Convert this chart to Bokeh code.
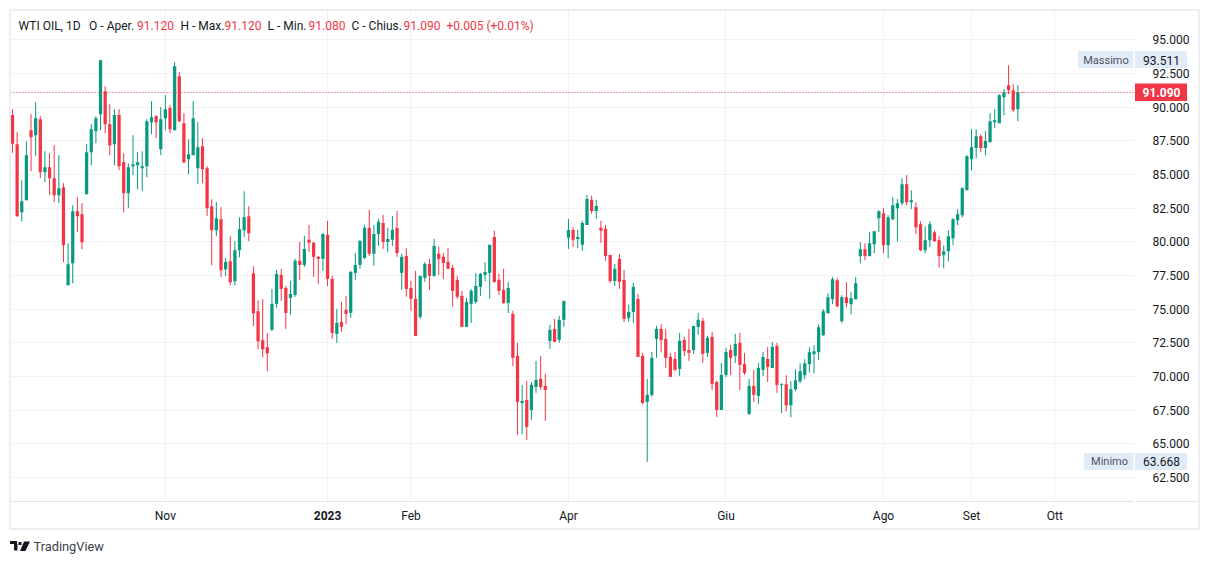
from bokeh.embed import file_html
from bokeh.resources import INLINE
from bokeh.plotting import figure
from bokeh.models import (ColumnDataSource, FixedTicker, Label, BoxAnnotation, PolyAnnotation,
                          Range1d, NumeralTickFormatter)

opens = [89.41,87.25,82.2,83.09,88.29,87.92,89.11,85.17,85.54,84.73,83.47,84.06,76.78,78.42,82.28,82.05,83.54,86.66,88.22,89.48,91.19,88.74,87.25,89.41,85.92,83.61,85.62,85.69,85.47,85.62,88.89,89.33,86.88,89.18,89.93,88.29,92.3,88.81,86.14,86.44,85.47,87.1,85.47,82.65,80.87,81.68,77.97,78.56,77.08,79.38,80.87,81.91,77.67,74.85,72.7,72.18,
 73.47,75.4,77.55,76.58,75.84,76.06,78.59,78.29,80.15,79.93,78.89,78.74,80.52,77.25,73.17,74.06,74.95,74.73,77.7,78.29,78.81,81.04,79.11,80.59,81.41,80.0,80.15,81.04,77.7,78.96,76.58,75.77,74.43,77.33,78.37,77.48,79.11,78.89,78.51,78.07,77.18,75.99,73.69,75.4,75.54,76.66,77.55,77.7,80.37,77.18,76.44,75.47,74.65,71.53,68.04,68.27,
 67.52,69.23,69.83,69.31,72.65,73.54,72.72,74.21,80.3,80.89,80.22,79.78,81.26,83.12,82.3,81.04,80.97,79.03,77.1,78.74,77.18,74.36,74.8,75.77,71.53,68.12,68.64,72.8,73.54,72.8,71.46,71.31,70.57,72.72,71.98,71.98,73.69,74.13,71.76,72.95,69.6,67.52,70.12,71.98,71.53,72.5,70.94,67.23,69.31,68.56,70.5,71.31,70.64,72.28,
 69.36,69.43,67.87,69.06,69.65,70.1,70.92,71.66,71.81,73.07,74.7,75.74,77.15,74.11,75.89,75.37,75.74,78.94,79.46,78.94,79.83,81.76,82.13,79.75,81.68,82.5,82.87,84.28,82.95,82.57,81.31,79.38,80.12,80.72,80.12,79.01,79.31,80.27,81.61,81.98,83.84,86.14,86.96,87.85,86.96,87.4,88.89,88.81,90.74,91.63,91.26,89.85,91.12]
highs = [89.85,88.14,84.58,87.48,89.48,90.37,89.33,86.73,86.58,87.18,86.44,84.36,79.9,82.72,83.32,82.87,87.25,88.74,89.33,93.511,91.56,90.22,89.85,89.85,86.58,85.84,87.92,86.66,86.73,89.11,90.45,89.41,90.0,90.89,90.15,93.34,92.6,89.55,87.62,90.45,88.89,87.7,85.62,83.17,82.95,82.57,78.79,80.42,80.05,81.83,83.76,82.65,78.19,75.67,75.74,73.22,
 76.51,77.92,78.0,76.73,77.1,78.74,80.0,80.45,81.26,80.0,78.96,80.67,81.56,77.48,75.02,75.54,75.99,77.85,79.18,80.15,81.26,82.38,81.26,81.71,82.0,81.04,81.93,82.3,79.11,79.55,77.1,77.85,77.48,78.51,78.74,80.22,79.63,79.18,79.55,78.29,77.48,76.36,75.84,76.51,77.7,77.7,78.51,79.78,80.82,77.62,78.0,77.03,74.88,72.5,69.38,69.68,
 69.6,71.16,71.53,70.2,73.84,74.28,74.5,75.62,81.71,81.11,80.89,81.56,83.49,83.42,83.12,81.56,81.26,79.03,78.37,79.11,77.92,75.32,76.96,76.14,71.76,69.83,71.83,73.76,73.91,73.54,71.76,71.83,73.24,72.95,73.54,73.76,74.73,74.36,73.02,73.32,69.68,71.01,72.13,72.35,73.17,73.24,71.76,69.83,70.5,71.01,71.83,72.2,72.57,72.5,
 69.51,70.1,69.65,70.54,70.99,71.29,72.18,72.33,73.89,75.0,76.19,77.38,77.3,76.04,77.0,76.26,77.38,79.98,79.9,80.72,80.79,82.35,82.5,81.98,83.32,83.17,84.73,84.95,83.84,82.95,81.53,81.16,81.53,80.87,80.42,79.75,80.87,81.76,82.43,84.06,86.44,88.37,88.37,88.0,88.22,89.55,89.85,90.97,91.34,93.12,91.71,91.63,91.12]
lows = [86.61,81.86,81.53,83.09,85.25,86.36,84.73,84.43,83.47,82.95,82.87,78.5,76.78,76.93,80.72,79.46,83.54,85.69,87.33,88.29,88.07,86.44,85.69,85.32,82.2,82.5,84.95,83.91,83.76,84.8,88.0,87.7,86.44,88.29,88.07,88.29,88.89,85.84,85.02,86.44,84.28,84.36,81.91,78.27,80.42,77.38,77.45,76.78,76.78,78.86,80.35,80.05,73.74,72.03,71.44,70.4,
 73.39,75.1,75.62,73.54,74.58,75.92,77.18,78.14,79.26,77.4,76.88,77.85,76.73,72.8,72.5,73.32,73.91,74.36,77.18,78.0,78.74,78.96,78.22,79.7,79.48,79.26,79.7,78.89,76.44,75.92,74.88,73.02,74.28,77.03,76.44,77.4,77.55,77.25,78.0,75.17,75.77,73.69,73.69,73.99,75.4,75.99,77.1,75.77,76.96,76.06,75.4,74.73,70.79,65.67,65.74,65.3,
 66.78,68.79,69.01,66.71,72.05,72.57,72.5,73.69,79.48,79.63,79.55,79.33,81.26,82.08,81.71,79.93,78.59,76.96,76.73,76.51,74.06,74.06,73.99,71.46,67.97,63.668,68.49,71.39,71.83,70.64,69.98,70.42,70.05,71.53,71.16,71.68,73.09,71.01,71.46,69.01,67.0,67.52,69.98,70.12,71.01,69.01,70.12,67.15,68.12,67.97,70.05,69.6,70.64,68.79,
 67.28,67.43,66.98,68.91,69.51,69.8,70.32,70.25,71.21,73.0,74.7,75.37,75.15,73.96,75.15,74.63,75.74,78.42,78.64,78.94,79.16,80.72,79.16,78.79,81.61,80.02,82.72,82.72,82.43,80.57,79.3,79.16,79.6,80.02,78.12,78.04,78.56,79.75,81.24,81.83,83.84,85.32,86.21,86.66,86.44,87.4,88.44,88.81,89.41,90.97,89.63,88.96,91.08]
closes = [87.28,81.91,83.02,86.44,87.77,89.18,85.17,85.54,84.73,83.47,83.99,79.75,78.34,82.28,81.91,79.98,86.66,88.37,89.18,93.49,88.74,87.18,89.41,85.62,83.61,85.54,85.77,85.92,85.62,88.96,89.26,88.89,89.11,89.85,88.37,93.04,88.96,85.92,86.51,89.18,87.03,85.4,82.5,80.87,81.76,77.9,78.5,77.0,79.38,80.94,81.83,80.64,74.7,72.62,72.03,71.73,
 75.4,77.62,76.51,74.73,76.14,78.59,78.29,79.48,79.93,78.89,78.74,80.59,77.25,73.24,73.99,73.69,74.65,77.77,78.29,80.07,81.04,79.11,80.59,81.49,80.0,80.22,80.89,79.18,78.89,76.51,75.77,73.02,77.48,78.37,77.48,79.7,78.74,78.44,78.0,76.36,75.92,73.69,75.54,76.36,76.73,77.62,77.77,79.78,77.03,76.36,75.47,76.58,71.39,68.12,68.19,66.26,
 69.38,69.75,69.23,69.01,73.47,72.57,74.21,75.62,80.89,80.15,80.37,81.41,83.19,82.3,82.67,80.82,78.96,77.1,78.0,77.03,74.28,74.8,76.66,71.46,68.04,68.64,71.39,73.54,72.72,71.39,69.98,70.5,72.65,71.91,71.76,73.76,74.21,71.68,72.87,69.46,67.52,70.12,71.83,71.39,72.43,70.87,70.27,69.31,68.64,70.64,71.46,70.72,72.2,69.38,
 69.43,67.87,69.06,69.73,70.4,70.99,71.81,71.88,73.66,74.85,75.89,77.23,75.22,75.89,75.45,75.82,76.93,79.46,78.94,79.9,80.79,82.28,79.75,81.83,82.72,82.87,84.28,82.95,83.09,81.09,79.38,80.12,81.31,80.05,78.94,79.31,80.42,81.68,82.05,83.99,86.36,87.03,87.85,86.96,87.48,88.96,89.03,90.89,91.11,91.26,89.78,91.11,91.09]
assert len(opens) == len(highs) == len(lows) == len(closes) == 219

price_ticks = [62.5,65,67.5,70,72.5,75,77.5,80,82.5,85,87.5,90,92.5,95]
time_tick_bars = [33,68,86,120,154,188,207,225]
time_tick_labels = ["Nov"," ","Feb","Apr","Giu","Ago","Set","Ott"]
bold_year_bar = 68
bold_year_label = "2023"
last_price = 91.09
max_price = 93.511
min_price = 63.668

GREEN, RED, GRID, BORDER, INK = "#089981", "#F23645", "#F1F2F5", "#E0E3EB", "#131722"
OUTER = "#EDEEF3"
TAG_BG = "#E1ECF9"
FONT = "Roboto"

W, H = 1201, 556
BAR_PX, BAR0_PX = 4.633, 12.0
PRICE_PX, P_REF, P_REF_PX = 13.47, 92.5, 73.0
bar_at = lambda px: (px - BAR0_PX) / BAR_PX
price_at = lambda py: P_REF - (py - P_REF_PX) / PRICE_PX
PANE_L, PANE_R, PANE_T, PANE_B = 10, 1135, 10, 501

bars = list(range(len(opens)))
colors = [RED if c < o else GREEN for o, c in zip(opens, closes)]
src = ColumnDataSource(dict(x=bars, o=opens, h=highs, l=lows, c=closes, color=colors))

p = figure(width=W, height=H, output_backend="svg", toolbar_location=None,
           x_range=Range1d(bar_at(0), bar_at(W)), y_range=Range1d(price_at(H), price_at(0)),
           y_axis_location="right", min_border=0, min_border_left=0, min_border_right=0,
           min_border_top=0, min_border_bottom=0,
           background_fill_color="white", border_fill_color="white", outline_line_color=None)

p.xgrid.ticker = FixedTicker(ticks=time_tick_bars)
p.ygrid.ticker = FixedTicker(ticks=price_ticks)
p.xgrid.grid_line_color = GRID
p.ygrid.grid_line_color = GRID

xa = p.xaxis[0]
xa.fixed_location = price_at(PANE_B)
xa.ticker = FixedTicker(ticks=time_tick_bars)
xa.major_label_overrides = dict(zip(time_tick_bars, time_tick_labels))
xa.axis_line_color = None
xa.major_tick_line_color = None
xa.minor_tick_line_color = None
xa.major_label_standoff = 1
xa.major_label_text_font = FONT
xa.major_label_text_font_size = "12px"
xa.major_label_text_color = INK

ya = p.yaxis[0]
ya.fixed_location = bar_at(PANE_R)
ya.ticker = FixedTicker(ticks=price_ticks)
ya.formatter = NumeralTickFormatter(format="0.000")
ya.axis_line_color = None
ya.major_tick_line_color = None
ya.minor_tick_line_color = None
ya.major_label_standoff = 11
ya.major_label_text_font = FONT
ya.major_label_text_font_size = "12px"
ya.major_label_text_color = INK


def box(left, top, right, bottom, fill=None, line=None, lw=1, level="annotation"):
    p.add_layout(BoxAnnotation(left=left-0.5, right=right-0.5, top=top-0.5, bottom=bottom-0.5,
                               left_units="canvas", right_units="canvas",
                               top_units="canvas", bottom_units="canvas",
                               fill_color=fill, fill_alpha=1 if fill else 0,
                               line_color=line, line_alpha=1 if line else 0, line_width=lw,
                               level=level))


def text(x, y, t, color=INK, size="12px", style="normal", align="left"):
    p.add_layout(Label(x=x, y=y, x_units="canvas", y_units="canvas", text=t,
                       text_font=FONT, text_font_size=size, text_color=color,
                       text_font_style=style, text_align=align, text_baseline="middle"))


# keep the grid inside the chart pane
for b in [(0, 0, W, PANE_T), (0, 0, PANE_L, H), (PANE_R, 0, W, H), (0, PANE_B, W, H)]:
    box(*b, fill="white", level="underlay")

p.segment("x", "h", "x", "l", source=src, color="color", line_width=1)
p.vbar("x", 0.7, "o", "c", source=src, fill_color="color", line_color=None)
price_line = p.segment(x0=[bar_at(PANE_L)], x1=[bar_at(PANE_R)], y0=[last_price], y1=[last_price],
                       line_color=RED, line_width=1)
price_line.glyph.line_dash = [1, 2]

# outer frame and time-axis line
box(10, 10, 1199, 529, line=OUTER, lw=2)
box(10, 501, 1134, 502, fill=BORDER)
box(1136, 501, 1198, 502, fill=BORDER)

# year label in bold on its tick
p.add_layout(Label(x=bold_year_bar, y=515, y_units="canvas", text=bold_year_label,
                   text_font=FONT, text_font_size="12px", text_font_style="bold",
                   text_color=INK, text_align="center", text_baseline="middle"))

# price scale tags
box(1078, 51, 1133.5, 68, fill=TAG_BG)
box(1135, 51, 1187, 68, fill=TAG_BG)
text(1105.5, 59.5, "Massimo", color="#50535E", size="11px", align="center")
text(1161, 59.5, f"{max_price:.3f}", align="center")
box(1084, 453, 1133.5, 470, fill=TAG_BG)
box(1135, 453, 1187, 470, fill=TAG_BG)
text(1109, 461, "Minimo", color="#50535E", size="11px", align="center")
text(1161, 461, f"{min_price:.3f}", align="center")
box(1135, 83.5, 1187, 101, fill=RED)
text(1161, 92, f"{last_price:.3f}", color="white", style="bold", align="center")

# legend row
legend = [(18, "WTI OIL, 1D", INK), (88.6, "O - Aper.", INK), (136.5, "91.120", RED),
          (180, "H - Max.", INK), (224, "91.120", RED),
          (267, "L - Min.", INK), (308, "91.080", RED),
          (351, "C - Chius.", INK), (403, "91.090", RED),
          (446, "+0.005 (+0.01%)", RED)]
for lx, t, c in legend:
    text(lx, 25, t, color=c)

# TradingView logo
box(10, 541, 17, 544, fill=INK)
box(14, 544, 17.5, 550.5, fill=INK)
p.add_layout(PolyAnnotation(xs=[18, 21, 21, 18], ys=[541.5, 541.5, 544.5, 544.5],
                            xs_units="canvas", ys_units="canvas", fill_color=INK, fill_alpha=1, line_color=None))
p.add_layout(PolyAnnotation(xs=[23.5, 29.5, 25, 19.5], ys=[541, 541, 550.5, 550.5],
                            xs_units="canvas", ys_units="canvas", fill_color=INK, fill_alpha=1, line_color=None))
text(33, 546, "TradingView", color="#3D4048", size="12.8px")

open("out.html", "w").write(file_html(p, INLINE))
